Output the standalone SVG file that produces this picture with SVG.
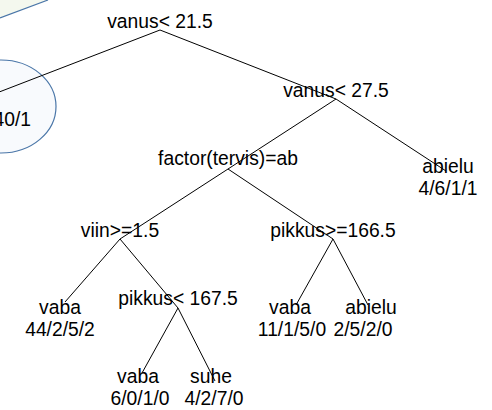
<svg xmlns="http://www.w3.org/2000/svg" width="492" height="410" viewBox="0 0 492 410">
<style>
text{font-family:"Liberation Sans",Arial,sans-serif;font-size:19.3px;fill:#000;text-anchor:middle}
.br{stroke:#000;stroke-width:1;fill:none}
.hl{stroke:#4a76a8;stroke-width:1.2}
</style>
<rect width="492" height="410" fill="#fff"/>
<g id="callout">
<polygon points="0,0 48,0 0,18" fill="#f4f8ee"/>
<line class="hl" x1="0" y1="18" x2="48" y2="0"/>
</g>
<g id="highlight">
<ellipse cx="1" cy="106.5" rx="55" ry="46.5" fill="#f8fafd" class="hl"/>
</g>
<g id="connectors">
<path class="br" d="M160,30 L0,91.7"/>
<path class="br" d="M160,30 L336,99"/>
<path class="br" d="M336,99 L228,169"/>
<path class="br" d="M336,99 L446,171"/>
<path class="br" d="M228,169 L120,239"/>
<path class="br" d="M228,169 L333,239"/>
<path class="br" d="M120,239 L65,302"/>
<path class="br" d="M120,239 L178,308"/>
<path class="br" d="M178,308 L142,373"/>
<path class="br" d="M178,308 L215,381"/>
<path class="br" d="M333,239 L296,305"/>
<path class="br" d="M333,239 L368,305"/>
</g>
<g id="leaf1"><text x="31" y="126" style="text-anchor:end">40/1</text></g>
<g id="n1"><text x="160" y="27.5">vanus&lt; 21.5</text></g>
<g id="n2"><text x="336" y="97">vanus&lt; 27.5</text></g>
<g id="n3"><text x="228" y="165">factor(tervis)=ab</text></g>
<g id="leaf2"><text x="448" y="173">abielu</text><text x="448" y="195">4/6/1/1</text></g>
<g id="n4"><text x="120" y="236.5">viin&gt;=1.5</text></g>
<g id="n5"><text x="333" y="236.5">pikkus&gt;=166.5</text></g>
<g id="leaf3"><text x="60" y="314">vaba</text><text x="60" y="336">44/2/5/2</text></g>
<g id="n6"><text x="178" y="305">pikkus&lt; 167.5</text></g>
<g id="leaf4"><text x="290" y="314">vaba</text><text x="292" y="336">11/1/5/0</text></g>
<g id="leaf5"><text x="371" y="314">abielu</text><text x="363" y="336">2/5/2/0</text></g>
<g id="leaf6"><text x="138" y="383">vaba</text><text x="140" y="405">6/0/1/0</text></g>
<g id="leaf7"><text x="211" y="383">suhe</text><text x="214" y="405">4/2/7/0</text></g>
</svg>
